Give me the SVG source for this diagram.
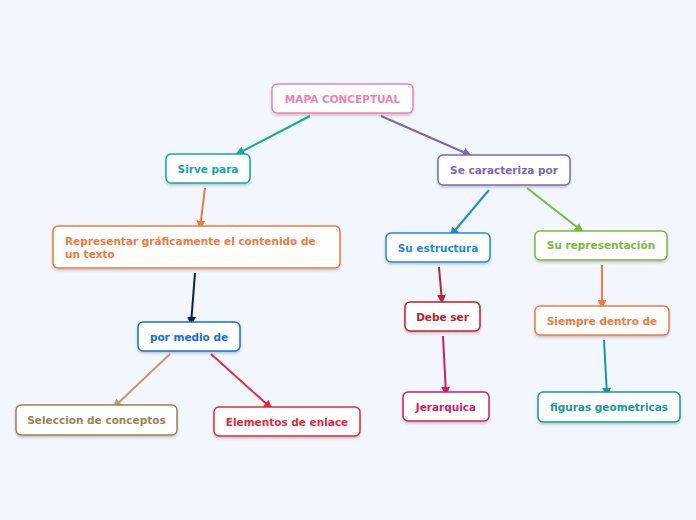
<svg xmlns="http://www.w3.org/2000/svg" width="696" height="520" viewBox="0 0 696 520">
<defs>
<filter id="sh" x="-10%" y="-20%" width="120%" height="150%"><feDropShadow dx="0" dy="2" stdDeviation="1" flood-color="#000" flood-opacity="0.18"/></filter>
<marker id="m1" viewBox="0 0 10 10" refX="8" refY="5" markerWidth="9" markerHeight="9" markerUnits="userSpaceOnUse" orient="auto"><path d="M0,0L10,5L0,10z" fill="#13a89e"/></marker>
<marker id="m2" viewBox="0 0 10 10" refX="8" refY="5" markerWidth="9" markerHeight="9" markerUnits="userSpaceOnUse" orient="auto"><path d="M0,0L10,5L0,10z" fill="#7b68ae"/></marker>
<marker id="m3" viewBox="0 0 10 10" refX="8" refY="5" markerWidth="9" markerHeight="9" markerUnits="userSpaceOnUse" orient="auto"><path d="M0,0L10,5L0,10z" fill="#f07a3a"/></marker>
<marker id="m4" viewBox="0 0 10 10" refX="8" refY="5" markerWidth="9" markerHeight="9" markerUnits="userSpaceOnUse" orient="auto"><path d="M0,0L10,5L0,10z" fill="#0b1f4a"/></marker>
<marker id="m5" viewBox="0 0 10 10" refX="8" refY="5" markerWidth="9" markerHeight="9" markerUnits="userSpaceOnUse" orient="auto"><path d="M0,0L10,5L0,10z" fill="#1e88e5"/></marker>
<marker id="m6" viewBox="0 0 10 10" refX="8" refY="5" markerWidth="9" markerHeight="9" markerUnits="userSpaceOnUse" orient="auto"><path d="M0,0L10,5L0,10z" fill="#7cb83e"/></marker>
<marker id="m7" viewBox="0 0 10 10" refX="8" refY="5" markerWidth="9" markerHeight="9" markerUnits="userSpaceOnUse" orient="auto"><path d="M0,0L10,5L0,10z" fill="#c0202a"/></marker>
<marker id="m8" viewBox="0 0 10 10" refX="8" refY="5" markerWidth="9" markerHeight="9" markerUnits="userSpaceOnUse" orient="auto"><path d="M0,0L10,5L0,10z" fill="#c49a6c"/></marker>
<marker id="m9" viewBox="0 0 10 10" refX="8" refY="5" markerWidth="9" markerHeight="9" markerUnits="userSpaceOnUse" orient="auto"><path d="M0,0L10,5L0,10z" fill="#e02b3a"/></marker>
<marker id="m10" viewBox="0 0 10 10" refX="8" refY="5" markerWidth="9" markerHeight="9" markerUnits="userSpaceOnUse" orient="auto"><path d="M0,0L10,5L0,10z" fill="#d81b60"/></marker>
<marker id="m11" viewBox="0 0 10 10" refX="8" refY="5" markerWidth="9" markerHeight="9" markerUnits="userSpaceOnUse" orient="auto"><path d="M0,0L10,5L0,10z" fill="#14999a"/></marker>
</defs>
<style>
rect{fill:#fff;stroke-width:1.5;filter:url(#sh)}
text{font-family:"DejaVu Sans",Verdana,sans-serif;font-size:10.5px;font-weight:bold}
.c line{stroke-width:2}
</style>
<rect x="0" y="0" width="696" height="520" style="fill:#f2f6fe;stroke:none;filter:none"/>
<g class="c">
<line x1="310" y1="116" x2="237" y2="154" stroke="#13a89e" marker-end="url(#m1)"/>
<line x1="381" y1="116" x2="470" y2="155" stroke="#7b68ae" marker-end="url(#m2)"/>
<line x1="205" y1="188" x2="200" y2="228" stroke="#f07a3a" marker-end="url(#m3)"/>
<line x1="195" y1="273" x2="191" y2="324" stroke="#0b1f4a" marker-end="url(#m4)"/>
<line x1="489" y1="190" x2="451" y2="235" stroke="#1e88e5" marker-end="url(#m5)"/>
<line x1="527" y1="188" x2="582" y2="231" stroke="#7cb83e" marker-end="url(#m6)"/>
<line x1="439" y1="267" x2="442" y2="302" stroke="#c0202a" marker-end="url(#m7)"/>
<line x1="602" y1="265" x2="602" y2="307" stroke="#f07a3a" marker-end="url(#m3)"/>
<line x1="170" y1="354" x2="114" y2="407" stroke="#c49a6c" marker-end="url(#m8)"/>
<line x1="211" y1="354" x2="271" y2="408" stroke="#e02b3a" marker-end="url(#m9)"/>
<line x1="443" y1="336" x2="446" y2="394" stroke="#d81b60" marker-end="url(#m10)"/>
<line x1="604" y1="340" x2="607" y2="395" stroke="#14999a" marker-end="url(#m11)"/>
</g>
<g id="n1"><rect x="272" y="84" width="141" height="29" rx="5" stroke="#f080b0"/><text x="342.5" y="103" text-anchor="middle" fill="#f080b0">MAPA CONCEPTUAL</text></g>
<g id="n2"><rect x="166" y="154" width="84" height="29" rx="5" stroke="#13a89e"/><text x="208" y="173" text-anchor="middle" fill="#13a89e">Sirve para</text></g>
<g id="n3"><rect x="438" y="155" width="132" height="30" rx="5" stroke="#7b68ae"/><text x="504" y="174" text-anchor="middle" fill="#7b68ae">Se caracteriza por</text></g>
<g id="n4"><rect x="53" y="226" width="287" height="42" rx="5" stroke="#f07a3a"/><text x="65" y="245" fill="#f07a3a">Representar gráficamente el contenido de</text><text x="65" y="258" fill="#f07a3a">un texto</text></g>
<g id="n5"><rect x="386" y="233" width="104" height="29" rx="5" stroke="#1e88e5"/><text x="438" y="252" text-anchor="middle" fill="#1e88e5">Su estructura</text></g>
<g id="n6"><rect x="535" y="231" width="132" height="29" rx="5" stroke="#7cb83e"/><text x="601" y="249" text-anchor="middle" fill="#7cb83e">Su representación</text></g>
<g id="n7"><rect x="405" y="302" width="75" height="29" rx="5" stroke="#c0202a"/><text x="442.5" y="321" text-anchor="middle" fill="#c0202a">Debe ser</text></g>
<g id="n8"><rect x="535" y="306" width="134" height="29" rx="5" stroke="#f07a3a"/><text x="602" y="325" text-anchor="middle" fill="#f07a3a">Siempre dentro de</text></g>
<g id="n9"><rect x="138" y="322" width="102" height="29" rx="5" stroke="#1270d8"/><text x="189" y="341" text-anchor="middle" fill="#1270d8">por medio de</text></g>
<g id="n10"><rect x="16" y="405" width="161" height="30" rx="5" stroke="#a08050"/><text x="96.5" y="424" text-anchor="middle" fill="#a08050">Seleccion de conceptos</text></g>
<g id="n11"><rect x="214" y="407" width="146" height="29" rx="5" stroke="#e02b3a"/><text x="287" y="426" text-anchor="middle" fill="#e02b3a">Elementos de enlace</text></g>
<g id="n12"><rect x="403" y="392" width="86" height="29" rx="5" stroke="#d81b60"/><text x="446" y="411" text-anchor="middle" fill="#d81b60">Jerarquica</text></g>
<g id="n13"><rect x="538" y="392" width="142" height="30" rx="5" stroke="#14999a"/><text x="609" y="411" text-anchor="middle" fill="#14999a">figuras geometricas</text></g>
</svg>
